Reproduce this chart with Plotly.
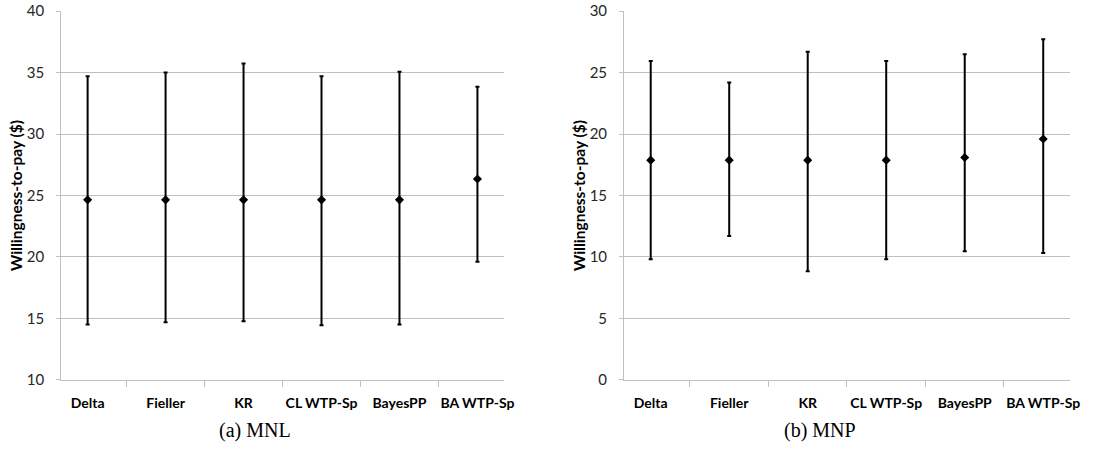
import plotly.graph_objects as go
from plotly.subplots import make_subplots

methods = ["Delta", "Fieller", "KR", "CL WTP-Sp", "BayesPP", "BA WTP-Sp"]

mnl_mean = [24.65, 24.65, 24.65, 24.65, 24.65, 26.35]
mnl_upper = [34.7, 35.0, 35.75, 34.7, 35.07, 33.85]
mnl_lower = [14.5, 14.7, 14.77, 14.45, 14.5, 19.62]

mnp_mean = [17.88, 17.88, 17.88, 17.88, 18.1, 19.6]
mnp_upper = [25.95, 24.2, 26.7, 25.95, 26.5, 27.72]
mnp_lower = [9.81, 11.71, 8.83, 9.81, 10.47, 10.33]

captions = ["(a) MNL", "(b) MNP"]

fig = make_subplots(rows=1, cols=2, horizontal_spacing=0.1)

def add(mean, up, lo, col):
    fig.add_trace(go.Scatter(
        x=methods, y=mean, mode="markers",
        marker=dict(symbol="diamond", size=7, color="black"),
        error_y=dict(type="data", symmetric=False,
                     array=[u - m for u, m in zip(up, mean)],
                     arrayminus=[m - l for m, l in zip(mean, lo)],
                     color="black", thickness=2, width=2),
        showlegend=False, hoverinfo="skip"), row=1, col=col)

add(mnl_mean, mnl_upper, mnl_lower, 1)
add(mnp_mean, mnp_upper, mnp_lower, 2)

axis_font = dict(family="Lato, Open Sans, sans-serif", size=15, color="#262626")
cat_font = dict(family="Lato, Open Sans, sans-serif", size=14, color="black", weight="bold")

for i, (rng, dom) in enumerate([([10, 40], [0.055, 0.4536]), ([0, 30], [0.5617, 0.963])], start=1):
    fig.update_xaxes(domain=dom, type="category", tickson="boundaries", ticks="outside",
                     ticklen=6, tickcolor="#bfbfbf", showline=True, linecolor="#bfbfbf",
                     linewidth=1, showgrid=False, tickfont=cat_font, automargin=False,
                     tickangle=0, ticklabelstandoff=10, row=1, col=i)
    fig.update_yaxes(range=rng, dtick=5, showgrid=True, gridcolor="#bfbfbf", gridwidth=1,
                     showline=True, linecolor="#bfbfbf", ticks="outside", ticklen=4,
                     tickcolor="#bfbfbf", zeroline=False, tickfont=axis_font, automargin=False,
                     ticklabelstandoff=9,
                     title=dict(text="Willingness-to-pay ($)", standoff=0,
                                font=dict(family="Lato, Open Sans, sans-serif", size=15.5,
                                          color="black", weight="bold")),
                     row=1, col=i)

fig.update_yaxes(domain=[0.183, 0.976])

for cap, xc in zip(captions, [255, 820]):
    fig.add_annotation(text=cap, xref="paper", yref="paper", x=xc / 1111, y=(465 - 430) / 465,
                       showarrow=False, xanchor="center", yanchor="middle",
                       font=dict(family="Liberation Serif, DejaVu Serif, serif", size=20, color="black"))

fig.update_layout(width=1111, height=465, margin=dict(l=0, r=0, t=0, b=0, autoexpand=False),
                  plot_bgcolor="white", paper_bgcolor="white", hovermode=False)

fig.write_html("out.html", config={"displayModeBar": False},
               post_script="document.body.style.margin='0';")
